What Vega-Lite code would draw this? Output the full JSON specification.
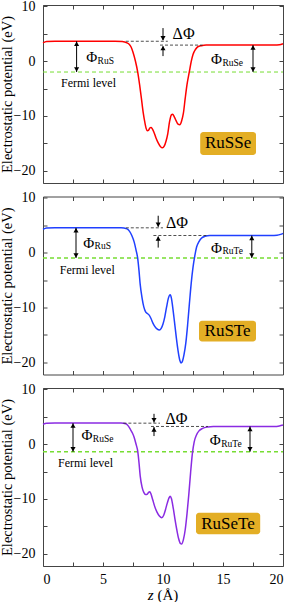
{
"$schema": "https://vega.github.io/schema/vega-lite/v6.json",
"padding": {"top": -1, "left": -1, "right": 5, "bottom": 0},
"background": "white",
"spacing": 13.5,
"bounds": "flush",
"config": {
  "view": {"stroke": null},
  "axis": {"domainColor": "#444", "tickColor": "#444", "tickSize": -4, "grid": false, "labelFont": "Liberation Serif", "labelFontSize": 14, "labelColor": "black", "titleFont": "Liberation Serif", "titleFontWeight": "normal", "titleColor": "black", "labelPadding": 12},
  "text": {"font": "Liberation Serif", "color": "black"}
},
"datasets": {"all": [
{"p":"RuSSe","k":"curve","z":0,"v":3.3},{"p":"RuSSe","k":"curve","z":0.3,"v":3.55},{"p":"RuSSe","k":"curve","z":1,"v":3.6},{"p":"RuSSe","k":"curve","z":6,"v":3.6},{"p":"RuSSe","k":"curve","z":6.6,"v":3.55},{"p":"RuSSe","k":"curve","z":7.0,"v":3.3},{"p":"RuSSe","k":"curve","z":7.2,"v":3.0},{"p":"RuSSe","k":"curve","z":7.35,"v":2.5},{"p":"RuSSe","k":"curve","z":7.5,"v":1.6},{"p":"RuSSe","k":"curve","z":7.7,"v":0.0},{"p":"RuSSe","k":"curve","z":7.9,"v":-2.1},{"p":"RuSSe","k":"curve","z":8.05,"v":-4.3},{"p":"RuSSe","k":"curve","z":8.2,"v":-6.8},{"p":"RuSSe","k":"curve","z":8.35,"v":-9.4},{"p":"RuSSe","k":"curve","z":8.5,"v":-11.3},{"p":"RuSSe","k":"curve","z":8.6,"v":-12.3},{"p":"RuSSe","k":"curve","z":8.7,"v":-12.7},{"p":"RuSSe","k":"curve","z":8.8,"v":-12.6},{"p":"RuSSe","k":"curve","z":8.9,"v":-12.2},{"p":"RuSSe","k":"curve","z":9.0,"v":-12.1},{"p":"RuSSe","k":"curve","z":9.1,"v":-12.3},{"p":"RuSSe","k":"curve","z":9.25,"v":-13.0},{"p":"RuSSe","k":"curve","z":9.4,"v":-13.9},{"p":"RuSSe","k":"curve","z":9.6,"v":-14.9},{"p":"RuSSe","k":"curve","z":9.8,"v":-15.6},{"p":"RuSSe","k":"curve","z":9.95,"v":-15.8},{"p":"RuSSe","k":"curve","z":10.1,"v":-15.5},{"p":"RuSSe","k":"curve","z":10.25,"v":-14.6},{"p":"RuSSe","k":"curve","z":10.4,"v":-13.2},{"p":"RuSSe","k":"curve","z":10.55,"v":-11.0},{"p":"RuSSe","k":"curve","z":10.7,"v":-9.8},{"p":"RuSSe","k":"curve","z":10.8,"v":-9.7},{"p":"RuSSe","k":"curve","z":10.95,"v":-10.2},{"p":"RuSSe","k":"curve","z":11.1,"v":-10.9},{"p":"RuSSe","k":"curve","z":11.25,"v":-11.5},{"p":"RuSSe","k":"curve","z":11.4,"v":-11.6},{"p":"RuSSe","k":"curve","z":11.55,"v":-10.9},{"p":"RuSSe","k":"curve","z":11.7,"v":-9.5},{"p":"RuSSe","k":"curve","z":11.85,"v":-6.8},{"p":"RuSSe","k":"curve","z":12.0,"v":-4.3},{"p":"RuSSe","k":"curve","z":12.2,"v":-1.9},{"p":"RuSSe","k":"curve","z":12.35,"v":-0.1},{"p":"RuSSe","k":"curve","z":12.5,"v":1.2},{"p":"RuSSe","k":"curve","z":12.7,"v":2.1},{"p":"RuSSe","k":"curve","z":12.9,"v":2.6},{"p":"RuSSe","k":"curve","z":13.2,"v":2.8},{"p":"RuSSe","k":"curve","z":13.6,"v":2.9},{"p":"RuSSe","k":"curve","z":14.5,"v":2.9},{"p":"RuSSe","k":"curve","z":19.3,"v":2.9},{"p":"RuSSe","k":"curve","z":19.7,"v":2.95},{"p":"RuSSe","k":"curve","z":20,"v":3.15},
{"p":"RuSTe","k":"curve","z":0,"v":4.2},{"p":"RuSTe","k":"curve","z":0.3,"v":4.45},{"p":"RuSTe","k":"curve","z":1,"v":4.5},{"p":"RuSTe","k":"curve","z":6.5,"v":4.5},{"p":"RuSTe","k":"curve","z":7.0,"v":4.3},{"p":"RuSTe","k":"curve","z":7.2,"v":3.9},{"p":"RuSTe","k":"curve","z":7.4,"v":3.1},{"p":"RuSTe","k":"curve","z":7.6,"v":1.9},{"p":"RuSTe","k":"curve","z":7.75,"v":0.5},{"p":"RuSTe","k":"curve","z":7.9,"v":-1.2},{"p":"RuSTe","k":"curve","z":8.0,"v":-3.3},{"p":"RuSTe","k":"curve","z":8.1,"v":-5.8},{"p":"RuSTe","k":"curve","z":8.25,"v":-8.2},{"p":"RuSTe","k":"curve","z":8.4,"v":-9.9},{"p":"RuSTe","k":"curve","z":8.55,"v":-10.8},{"p":"RuSTe","k":"curve","z":8.7,"v":-11.1},{"p":"RuSTe","k":"curve","z":8.85,"v":-11.4},{"p":"RuSTe","k":"curve","z":9.0,"v":-12.0},{"p":"RuSTe","k":"curve","z":9.15,"v":-12.8},{"p":"RuSTe","k":"curve","z":9.3,"v":-13.4},{"p":"RuSTe","k":"curve","z":9.5,"v":-13.9},{"p":"RuSTe","k":"curve","z":9.7,"v":-14.1},{"p":"RuSTe","k":"curve","z":9.85,"v":-13.8},{"p":"RuSTe","k":"curve","z":10.0,"v":-13.0},{"p":"RuSTe","k":"curve","z":10.15,"v":-11.7},{"p":"RuSTe","k":"curve","z":10.3,"v":-9.9},{"p":"RuSTe","k":"curve","z":10.45,"v":-8.3},{"p":"RuSTe","k":"curve","z":10.6,"v":-7.7},{"p":"RuSTe","k":"curve","z":10.7,"v":-8.3},{"p":"RuSTe","k":"curve","z":10.8,"v":-9.8},{"p":"RuSTe","k":"curve","z":10.95,"v":-12.5},{"p":"RuSTe","k":"curve","z":11.1,"v":-15.3},{"p":"RuSTe","k":"curve","z":11.25,"v":-17.8},{"p":"RuSTe","k":"curve","z":11.4,"v":-19.6},{"p":"RuSTe","k":"curve","z":11.5,"v":-20.1},{"p":"RuSTe","k":"curve","z":11.6,"v":-19.9},{"p":"RuSTe","k":"curve","z":11.75,"v":-18.6},{"p":"RuSTe","k":"curve","z":11.9,"v":-16.5},{"p":"RuSTe","k":"curve","z":12.05,"v":-13.2},{"p":"RuSTe","k":"curve","z":12.2,"v":-9.3},{"p":"RuSTe","k":"curve","z":12.35,"v":-5.6},{"p":"RuSTe","k":"curve","z":12.5,"v":-2.7},{"p":"RuSTe","k":"curve","z":12.65,"v":-0.6},{"p":"RuSTe","k":"curve","z":12.8,"v":1.0},{"p":"RuSTe","k":"curve","z":13.0,"v":2.0},{"p":"RuSTe","k":"curve","z":13.2,"v":2.6},{"p":"RuSTe","k":"curve","z":13.5,"v":2.95},{"p":"RuSTe","k":"curve","z":13.9,"v":3.1},{"p":"RuSTe","k":"curve","z":19.0,"v":3.1},{"p":"RuSTe","k":"curve","z":19.5,"v":3.15},{"p":"RuSTe","k":"curve","z":19.8,"v":3.3},{"p":"RuSTe","k":"curve","z":20,"v":3.5},
{"p":"RuSeTe","k":"curve","z":0,"v":3.6},{"p":"RuSeTe","k":"curve","z":0.3,"v":3.8},{"p":"RuSeTe","k":"curve","z":1,"v":3.85},{"p":"RuSeTe","k":"curve","z":6.5,"v":3.85},{"p":"RuSeTe","k":"curve","z":6.9,"v":3.7},{"p":"RuSeTe","k":"curve","z":7.1,"v":3.3},{"p":"RuSeTe","k":"curve","z":7.3,"v":2.6},{"p":"RuSeTe","k":"curve","z":7.45,"v":2.0},{"p":"RuSeTe","k":"curve","z":7.6,"v":1.2},{"p":"RuSeTe","k":"curve","z":7.75,"v":0.0},{"p":"RuSeTe","k":"curve","z":7.9,"v":-1.4},{"p":"RuSeTe","k":"curve","z":8.0,"v":-3.4},{"p":"RuSeTe","k":"curve","z":8.1,"v":-5.8},{"p":"RuSeTe","k":"curve","z":8.25,"v":-7.8},{"p":"RuSeTe","k":"curve","z":8.4,"v":-8.8},{"p":"RuSeTe","k":"curve","z":8.55,"v":-9.2},{"p":"RuSeTe","k":"curve","z":8.7,"v":-9.1},{"p":"RuSeTe","k":"curve","z":8.8,"v":-8.8},{"p":"RuSeTe","k":"curve","z":8.9,"v":-8.7},{"p":"RuSeTe","k":"curve","z":9.0,"v":-9.1},{"p":"RuSeTe","k":"curve","z":9.15,"v":-10.2},{"p":"RuSeTe","k":"curve","z":9.3,"v":-11.3},{"p":"RuSeTe","k":"curve","z":9.5,"v":-12.4},{"p":"RuSeTe","k":"curve","z":9.7,"v":-13.1},{"p":"RuSeTe","k":"curve","z":9.9,"v":-13.4},{"p":"RuSeTe","k":"curve","z":10.05,"v":-13.0},{"p":"RuSeTe","k":"curve","z":10.2,"v":-12.0},{"p":"RuSeTe","k":"curve","z":10.35,"v":-10.8},{"p":"RuSeTe","k":"curve","z":10.5,"v":-9.8},{"p":"RuSeTe","k":"curve","z":10.6,"v":-9.5},{"p":"RuSeTe","k":"curve","z":10.7,"v":-9.9},{"p":"RuSeTe","k":"curve","z":10.85,"v":-11.6},{"p":"RuSeTe","k":"curve","z":11.0,"v":-13.7},{"p":"RuSeTe","k":"curve","z":11.15,"v":-15.6},{"p":"RuSeTe","k":"curve","z":11.3,"v":-17.2},{"p":"RuSeTe","k":"curve","z":11.45,"v":-18.1},{"p":"RuSeTe","k":"curve","z":11.55,"v":-18.2},{"p":"RuSeTe","k":"curve","z":11.7,"v":-17.4},{"p":"RuSeTe","k":"curve","z":11.85,"v":-15.6},{"p":"RuSeTe","k":"curve","z":12.0,"v":-12.7},{"p":"RuSeTe","k":"curve","z":12.15,"v":-9.2},{"p":"RuSeTe","k":"curve","z":12.3,"v":-5.2},{"p":"RuSeTe","k":"curve","z":12.45,"v":-1.7},{"p":"RuSeTe","k":"curve","z":12.6,"v":0.4},{"p":"RuSeTe","k":"curve","z":12.8,"v":1.7},{"p":"RuSeTe","k":"curve","z":13.0,"v":2.4},{"p":"RuSeTe","k":"curve","z":13.3,"v":2.85},{"p":"RuSeTe","k":"curve","z":13.7,"v":3.1},{"p":"RuSeTe","k":"curve","z":14.2,"v":3.2},{"p":"RuSeTe","k":"curve","z":19.3,"v":3.2},{"p":"RuSeTe","k":"curve","z":19.7,"v":3.3},{"p":"RuSeTe","k":"curve","z":20,"v":3.45},

{"p":"RuSSe","k":"fermi","z":0,"z2":20,"v":-2.0},
{"p":"RuSSe","k":"dash","z":6.9,"z2":10.4,"v":3.6},{"p":"RuSSe","k":"dash","z":9.75,"z2":13.3,"v":2.9},
{"p":"RuSSe","k":"arrow","z":2.8,"v":3.6,"v2":-2.0},{"p":"RuSSe","k":"arrow","z":17.5,"v":2.9,"v2":-2.0},{"p":"RuSSe","k":"arrow","z":10.0,"v":6.0,"v2":3.8},{"p":"RuSSe","k":"arrow","z":10.0,"v":0.9,"v2":2.7},
{"p":"RuSSe","k":"head","z":2.8,"v":3.15,"d":"up"},{"p":"RuSSe","k":"head","z":2.8,"v":-1.55,"d":"down"},{"p":"RuSSe","k":"head","z":17.5,"v":2.45,"d":"up"},{"p":"RuSSe","k":"head","z":17.5,"v":-1.55,"d":"down"},{"p":"RuSSe","k":"head","z":10.0,"v":4.15,"d":"down"},{"p":"RuSSe","k":"head","z":10.0,"v":2.35,"d":"up"},
{"p":"RuSSe","k":"phi","z":3.6,"v":0.7,"t":"Φ"},{"p":"RuSSe","k":"sub","z":4.55,"v":0.05,"t":"RuS"},{"p":"RuSSe","k":"phi","z":14.0,"v":0.35,"t":"Φ"},{"p":"RuSSe","k":"sub","z":14.95,"v":-0.3,"t":"RuSe"},
{"p":"RuSSe","k":"fermitext","z":1.5,"v":-4.0,"t":"Fermi level"},
{"p":"RuSSe","k":"delta","z":10.8,"v":4.9,"t":"ΔΦ"},
{"p":"RuSSe","k":"badge","z":13.1,"z2":17.75,"v":-12.9,"v2":-17.1},{"p":"RuSSe","k":"badgetext","z":15.42,"v":-15.0,"t":"RuSSe"},

{"p":"RuSTe","k":"fermi","z":0,"z2":20,"v":-1.0},
{"p":"RuSTe","k":"dash","z":6.9,"z2":10.0,"v":4.5},{"p":"RuSTe","k":"dash","z":9.2,"z2":13.75,"v":3.1},
{"p":"RuSTe","k":"arrow","z":2.75,"v":4.5,"v2":-1.0},{"p":"RuSTe","k":"arrow","z":17.4,"v":3.1,"v2":-1.0},{"p":"RuSTe","k":"arrow","z":9.6,"v":6.7,"v2":4.7},{"p":"RuSTe","k":"arrow","z":9.6,"v":0.9,"v2":2.9},
{"p":"RuSTe","k":"head","z":2.75,"v":4.05,"d":"up"},{"p":"RuSTe","k":"head","z":2.75,"v":-0.55,"d":"down"},{"p":"RuSTe","k":"head","z":17.4,"v":2.65,"d":"up"},{"p":"RuSTe","k":"head","z":17.4,"v":-0.55,"d":"down"},{"p":"RuSTe","k":"head","z":9.6,"v":5.05,"d":"down"},{"p":"RuSTe","k":"head","z":9.6,"v":2.55,"d":"up"},
{"p":"RuSTe","k":"phi","z":3.35,"v":1.8,"t":"Φ"},{"p":"RuSTe","k":"sub","z":4.3,"v":1.15,"t":"RuS"},{"p":"RuSTe","k":"phi","z":14.0,"v":0.9,"t":"Φ"},{"p":"RuSTe","k":"sub","z":14.95,"v":0.25,"t":"RuTe"},
{"p":"RuSTe","k":"fermitext","z":1.4,"v":-3.1,"t":"Fermi level"},
{"p":"RuSTe","k":"delta","z":10.25,"v":5.3,"t":"ΔΦ"},
{"p":"RuSTe","k":"badge","z":13.0,"z2":17.75,"v":-12.4,"v2":-16.2},{"p":"RuSTe","k":"badgetext","z":15.38,"v":-14.3,"t":"RuSTe"},

{"p":"RuSeTe","k":"fermi","z":0,"z2":20,"v":-1.4},
{"p":"RuSeTe","k":"dash","z":6.7,"z2":9.75,"v":3.8},{"p":"RuSeTe","k":"dash","z":9.0,"z2":13.75,"v":3.2},
{"p":"RuSeTe","k":"arrow","z":2.5,"v":3.8,"v2":-1.4},{"p":"RuSeTe","k":"arrow","z":17.25,"v":3.2,"v2":-1.4},{"p":"RuSeTe","k":"arrow","z":9.25,"v":5.5,"v2":3.9},{"p":"RuSeTe","k":"arrow","z":9.25,"v":1.45,"v2":3.1},
{"p":"RuSeTe","k":"head","z":2.5,"v":3.35,"d":"up"},{"p":"RuSeTe","k":"head","z":2.5,"v":-0.95,"d":"down"},{"p":"RuSeTe","k":"head","z":17.25,"v":2.75,"d":"up"},{"p":"RuSeTe","k":"head","z":17.25,"v":-0.95,"d":"down"},{"p":"RuSeTe","k":"head","z":9.25,"v":4.35,"d":"down"},{"p":"RuSeTe","k":"head","z":9.25,"v":2.65,"d":"up"},
{"p":"RuSeTe","k":"phi","z":3.2,"v":1.6,"t":"Φ"},{"p":"RuSeTe","k":"sub","z":4.15,"v":0.95,"t":"RuSe"},{"p":"RuSeTe","k":"phi","z":13.9,"v":0.7,"t":"Φ"},{"p":"RuSeTe","k":"sub","z":14.85,"v":0.05,"t":"RuTe"},
{"p":"RuSeTe","k":"fermitext","z":1.25,"v":-3.45,"t":"Fermi level"},
{"p":"RuSeTe","k":"delta","z":10.2,"v":4.5,"t":"ΔΦ"},
{"p":"RuSeTe","k":"badge","z":12.75,"z2":18.1,"v":-12.5,"v2":-16.4},{"p":"RuSeTe","k":"badgetext","z":15.42,"v":-14.5,"t":"RuSeTe"}
]},
"data": {"name": "all"},
"vconcat": [
{
 "width": 240, "height": 178,
 "transform": [{"filter": "datum.p === 'RuSSe'"}],
 "resolve": {"axis": {"x": "independent", "y": "independent"}},
 "layer": [
  {"transform": [{"filter": "datum.k === 'fermi'"}],
   "mark": {"type": "rule", "color": "#77DD33", "strokeDash": [4, 3], "strokeWidth": 1},
   "encoding": {
     "x": {"field": "z", "type": "quantitative", "scale": {"domain": [0, 20], "nice": false, "zero": false}, "axis": {"orient": "top", "labels": false, "title": null, "values": [0,2.5,5,7.5,10,12.5,15,17.5,20]}},
     "x2": {"field": "z2"},
     "y": {"field": "v", "type": "quantitative", "scale": {"domain": [-22.2, 10.2], "nice": false, "zero": false}, "axis": {"orient": "right", "labels": false, "title": null, "values": [-20,-15,-10,-5,0,5,10]}}
   }},
  {"transform": [{"filter": "datum.k === 'curve'"}],
   "mark": {"type": "line", "color": "#FF0000", "strokeWidth": 1.5, "interpolate": "monotone"},
   "encoding": {
     "x": {"field": "z", "type": "quantitative", "axis": {"orient": "bottom", "labels": false, "title": null, "values": [0,2.5,5,7.5,10,12.5,15,17.5,20]}},
     "y": {"field": "v", "type": "quantitative", "axis": {"orient": "left", "title": "Electrostatic potential (eV)", "titleFontSize": 14.5, "titlePadding": 2, "minExtent": 27, "maxExtent": 27, "format": "d", "labelExpr": "datum.value % 10 === 0 ? datum.label : ''", "values": [-20,-15,-10,-5,0,5,10]}}
   }},
  {"transform": [{"filter": "datum.k === 'dash'"}],
   "mark": {"type": "rule", "color": "#222", "strokeDash": [3, 2], "strokeWidth": 0.8},
   "encoding": {"x": {"field": "z", "type": "quantitative", "axis": null}, "x2": {"field": "z2"}, "y": {"field": "v", "type": "quantitative", "axis": null}}},
  {"transform": [{"filter": "datum.k === 'arrow'"}],
   "mark": {"type": "rule", "color": "black", "strokeWidth": 1},
   "encoding": {"x": {"field": "z", "type": "quantitative", "axis": null}, "y": {"field": "v", "type": "quantitative", "axis": null}, "y2": {"field": "v2"}}},
  {"transform": [{"filter": "datum.k === 'head'"}],
   "mark": {"type": "point", "filled": true, "color": "black", "size": 26, "opacity": 1},
   "encoding": {"x": {"field": "z", "type": "quantitative", "axis": null}, "y": {"field": "v", "type": "quantitative", "axis": null},
     "shape": {"field": "d", "type": "nominal", "scale": {"domain": ["up", "down"], "range": ["triangle-up", "triangle-down"]}, "legend": null}}},
  {"transform": [{"filter": "datum.k === 'badge'"}],
   "mark": {"type": "rect", "color": "#E3AE25", "cornerRadius": 3},
   "encoding": {"x": {"field": "z", "type": "quantitative", "axis": null}, "x2": {"field": "z2"}, "y": {"field": "v", "type": "quantitative", "axis": null}, "y2": {"field": "v2"}}},
  {"transform": [{"filter": "datum.k === 'phi'"}],
   "mark": {"type": "text", "fontSize": 15, "align": "left", "baseline": "middle"},
   "encoding": {"x": {"field": "z", "type": "quantitative", "axis": null}, "y": {"field": "v", "type": "quantitative", "axis": null}, "text": {"field": "t"}}},
  {"transform": [{"filter": "datum.k === 'sub'"}],
   "mark": {"type": "text", "fontSize": 9.5, "align": "left", "baseline": "middle"},
   "encoding": {"x": {"field": "z", "type": "quantitative", "axis": null}, "y": {"field": "v", "type": "quantitative", "axis": null}, "text": {"field": "t"}}},
  {"transform": [{"filter": "datum.k === 'fermitext'"}],
   "mark": {"type": "text", "fontSize": 12, "align": "left", "baseline": "middle"},
   "encoding": {"x": {"field": "z", "type": "quantitative", "axis": null}, "y": {"field": "v", "type": "quantitative", "axis": null}, "text": {"field": "t"}}},
  {"transform": [{"filter": "datum.k === 'delta'"}],
   "mark": {"type": "text", "fontSize": 16, "align": "left", "baseline": "middle"},
   "encoding": {"x": {"field": "z", "type": "quantitative", "axis": null}, "y": {"field": "v", "type": "quantitative", "axis": null}, "text": {"field": "t"}}},
  {"transform": [{"filter": "datum.k === 'badgetext'"}],
   "mark": {"type": "text", "fontSize": 17, "align": "center", "baseline": "middle"},
   "encoding": {"x": {"field": "z", "type": "quantitative", "axis": null}, "y": {"field": "v", "type": "quantitative", "axis": null}, "text": {"field": "t"}}}
 ]
},
{
 "width": 240, "height": 178,
 "transform": [{"filter": "datum.p === 'RuSTe'"}],
 "resolve": {"axis": {"x": "independent", "y": "independent"}},
 "layer": [
  {"transform": [{"filter": "datum.k === 'fermi'"}],
   "mark": {"type": "rule", "color": "#77DD33", "strokeDash": [4, 3], "strokeWidth": 1.5},
   "encoding": {
     "x": {"field": "z", "type": "quantitative", "scale": {"domain": [0, 20], "nice": false, "zero": false}, "axis": {"orient": "top", "labels": false, "title": null, "values": [0,2.5,5,7.5,10,12.5,15,17.5,20]}},
     "x2": {"field": "z2"},
     "y": {"field": "v", "type": "quantitative", "scale": {"domain": [-22.2, 10.2], "nice": false, "zero": false}, "axis": {"orient": "right", "labels": false, "title": null, "values": [-20,-15,-10,-5,0,5,10]}}
   }},
  {"transform": [{"filter": "datum.k === 'curve'"}],
   "mark": {"type": "line", "color": "#2040FF", "strokeWidth": 1.5, "interpolate": "monotone"},
   "encoding": {
     "x": {"field": "z", "type": "quantitative", "axis": {"orient": "bottom", "labels": false, "title": null, "values": [0,2.5,5,7.5,10,12.5,15,17.5,20]}},
     "y": {"field": "v", "type": "quantitative", "axis": {"orient": "left", "title": "Electrostatic potential (eV)", "titleFontSize": 14.5, "titlePadding": 2, "minExtent": 27, "maxExtent": 27, "format": "d", "labelExpr": "datum.value % 10 === 0 ? datum.label : ''", "values": [-20,-15,-10,-5,0,5,10]}}
   }},
  {"transform": [{"filter": "datum.k === 'dash'"}],
   "mark": {"type": "rule", "color": "#222", "strokeDash": [3, 2], "strokeWidth": 0.8},
   "encoding": {"x": {"field": "z", "type": "quantitative", "axis": null}, "x2": {"field": "z2"}, "y": {"field": "v", "type": "quantitative", "axis": null}}},
  {"transform": [{"filter": "datum.k === 'arrow'"}],
   "mark": {"type": "rule", "color": "black", "strokeWidth": 1},
   "encoding": {"x": {"field": "z", "type": "quantitative", "axis": null}, "y": {"field": "v", "type": "quantitative", "axis": null}, "y2": {"field": "v2"}}},
  {"transform": [{"filter": "datum.k === 'head'"}],
   "mark": {"type": "point", "filled": true, "color": "black", "size": 26, "opacity": 1},
   "encoding": {"x": {"field": "z", "type": "quantitative", "axis": null}, "y": {"field": "v", "type": "quantitative", "axis": null},
     "shape": {"field": "d", "type": "nominal", "scale": {"domain": ["up", "down"], "range": ["triangle-up", "triangle-down"]}, "legend": null}}},
  {"transform": [{"filter": "datum.k === 'badge'"}],
   "mark": {"type": "rect", "color": "#E3AE25", "cornerRadius": 3},
   "encoding": {"x": {"field": "z", "type": "quantitative", "axis": null}, "x2": {"field": "z2"}, "y": {"field": "v", "type": "quantitative", "axis": null}, "y2": {"field": "v2"}}},
  {"transform": [{"filter": "datum.k === 'phi'"}],
   "mark": {"type": "text", "fontSize": 15, "align": "left", "baseline": "middle"},
   "encoding": {"x": {"field": "z", "type": "quantitative", "axis": null}, "y": {"field": "v", "type": "quantitative", "axis": null}, "text": {"field": "t"}}},
  {"transform": [{"filter": "datum.k === 'sub'"}],
   "mark": {"type": "text", "fontSize": 9.5, "align": "left", "baseline": "middle"},
   "encoding": {"x": {"field": "z", "type": "quantitative", "axis": null}, "y": {"field": "v", "type": "quantitative", "axis": null}, "text": {"field": "t"}}},
  {"transform": [{"filter": "datum.k === 'fermitext'"}],
   "mark": {"type": "text", "fontSize": 12, "align": "left", "baseline": "middle"},
   "encoding": {"x": {"field": "z", "type": "quantitative", "axis": null}, "y": {"field": "v", "type": "quantitative", "axis": null}, "text": {"field": "t"}}},
  {"transform": [{"filter": "datum.k === 'delta'"}],
   "mark": {"type": "text", "fontSize": 16, "align": "left", "baseline": "middle"},
   "encoding": {"x": {"field": "z", "type": "quantitative", "axis": null}, "y": {"field": "v", "type": "quantitative", "axis": null}, "text": {"field": "t"}}},
  {"transform": [{"filter": "datum.k === 'badgetext'"}],
   "mark": {"type": "text", "fontSize": 17, "align": "center", "baseline": "middle"},
   "encoding": {"x": {"field": "z", "type": "quantitative", "axis": null}, "y": {"field": "v", "type": "quantitative", "axis": null}, "text": {"field": "t"}}}
 ]
},
{
 "width": 240, "height": 178,
 "transform": [{"filter": "datum.p === 'RuSeTe'"}],
 "resolve": {"axis": {"x": "independent", "y": "independent"}},
 "layer": [
  {"transform": [{"filter": "datum.k === 'fermi'"}],
   "mark": {"type": "rule", "color": "#77DD33", "strokeDash": [4, 3], "strokeWidth": 1.5},
   "encoding": {
     "x": {"field": "z", "type": "quantitative", "scale": {"domain": [0, 20], "nice": false, "zero": false}, "axis": {"orient": "top", "labels": false, "title": null, "values": [0,2.5,5,7.5,10,12.5,15,17.5,20]}},
     "x2": {"field": "z2"},
     "y": {"field": "v", "type": "quantitative", "scale": {"domain": [-22.2, 10.2], "nice": false, "zero": false}, "axis": {"orient": "right", "labels": false, "title": null, "values": [-20,-15,-10,-5,0,5,10]}}
   }},
  {"transform": [{"filter": "datum.k === 'curve'"}],
   "mark": {"type": "line", "color": "#8A2BE2", "strokeWidth": 1.5, "interpolate": "monotone"},
   "encoding": {
     "x": {"field": "z", "type": "quantitative", "axis": {"orient": "bottom", "title": "z", "titleFontStyle": "italic", "titleFontSize": 15, "titleAlign": "right", "titleAnchor": null, "titleX": 110, "titleY": 33, "titleBaseline": "alphabetic", "labelPadding": 10, "format": "d", "labelExpr": "datum.value % 5 === 0 ? datum.label : ''", "values": [0,2.5,5,7.5,10,12.5,15,17.5,20]}},
     "y": {"field": "v", "type": "quantitative", "axis": {"orient": "left", "title": "Electrostatic potential (eV)", "titleFontSize": 14.5, "titlePadding": 2, "minExtent": 27, "maxExtent": 27, "format": "d", "labelExpr": "datum.value % 10 === 0 ? datum.label : ''", "values": [-20,-15,-10,-5,0,5,10]}}
   }},
  {"transform": [{"filter": "datum.k === 'dash'"}],
   "mark": {"type": "rule", "color": "#222", "strokeDash": [3, 2], "strokeWidth": 0.8},
   "encoding": {"x": {"field": "z", "type": "quantitative", "axis": {"orient": "bottom", "labels": false, "ticks": false, "domain": false, "title": "(Å)", "titleFontSize": 15, "titleAlign": "left", "titleAnchor": null, "titleX": 114, "titleY": 33, "titleBaseline": "alphabetic"}}, "x2": {"field": "z2"}, "y": {"field": "v", "type": "quantitative", "axis": null}}},
  {"transform": [{"filter": "datum.k === 'arrow'"}],
   "mark": {"type": "rule", "color": "black", "strokeWidth": 1},
   "encoding": {"x": {"field": "z", "type": "quantitative", "axis": null}, "y": {"field": "v", "type": "quantitative", "axis": null}, "y2": {"field": "v2"}}},
  {"transform": [{"filter": "datum.k === 'head'"}],
   "mark": {"type": "point", "filled": true, "color": "black", "size": 26, "opacity": 1},
   "encoding": {"x": {"field": "z", "type": "quantitative", "axis": null}, "y": {"field": "v", "type": "quantitative", "axis": null},
     "shape": {"field": "d", "type": "nominal", "scale": {"domain": ["up", "down"], "range": ["triangle-up", "triangle-down"]}, "legend": null}}},
  {"transform": [{"filter": "datum.k === 'badge'"}],
   "mark": {"type": "rect", "color": "#E3AE25", "cornerRadius": 3},
   "encoding": {"x": {"field": "z", "type": "quantitative", "axis": null}, "x2": {"field": "z2"}, "y": {"field": "v", "type": "quantitative", "axis": null}, "y2": {"field": "v2"}}},
  {"transform": [{"filter": "datum.k === 'phi'"}],
   "mark": {"type": "text", "fontSize": 15, "align": "left", "baseline": "middle"},
   "encoding": {"x": {"field": "z", "type": "quantitative", "axis": null}, "y": {"field": "v", "type": "quantitative", "axis": null}, "text": {"field": "t"}}},
  {"transform": [{"filter": "datum.k === 'sub'"}],
   "mark": {"type": "text", "fontSize": 9.5, "align": "left", "baseline": "middle"},
   "encoding": {"x": {"field": "z", "type": "quantitative", "axis": null}, "y": {"field": "v", "type": "quantitative", "axis": null}, "text": {"field": "t"}}},
  {"transform": [{"filter": "datum.k === 'fermitext'"}],
   "mark": {"type": "text", "fontSize": 12, "align": "left", "baseline": "middle"},
   "encoding": {"x": {"field": "z", "type": "quantitative", "axis": null}, "y": {"field": "v", "type": "quantitative", "axis": null}, "text": {"field": "t"}}},
  {"transform": [{"filter": "datum.k === 'delta'"}],
   "mark": {"type": "text", "fontSize": 16, "align": "left", "baseline": "middle"},
   "encoding": {"x": {"field": "z", "type": "quantitative", "axis": null}, "y": {"field": "v", "type": "quantitative", "axis": null}, "text": {"field": "t"}}},
  {"transform": [{"filter": "datum.k === 'badgetext'"}],
   "mark": {"type": "text", "fontSize": 17, "align": "center", "baseline": "middle"},
   "encoding": {"x": {"field": "z", "type": "quantitative", "axis": null}, "y": {"field": "v", "type": "quantitative", "axis": null}, "text": {"field": "t"}}}
 ]
}
]
}
